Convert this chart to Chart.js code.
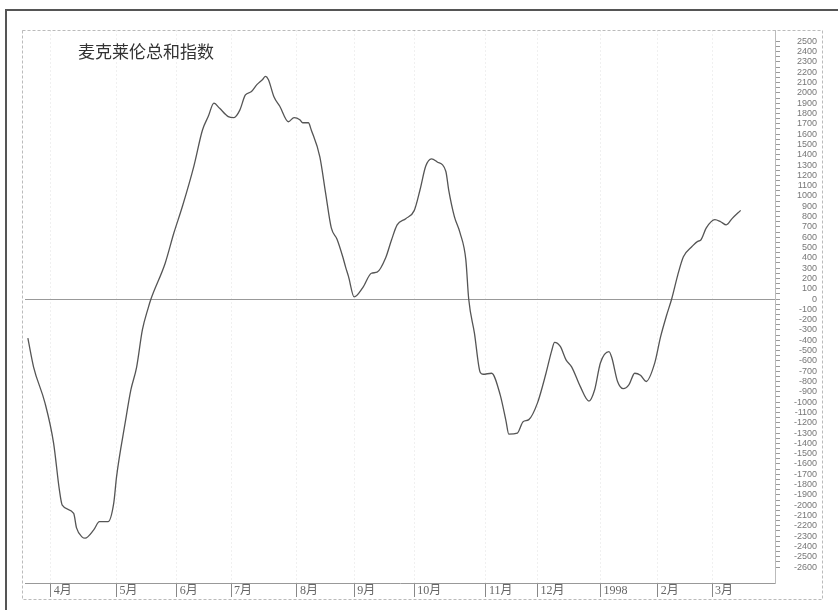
<!DOCTYPE html>
<html>
<head>
<meta charset="utf-8">
<script src="https://cdn.jsdelivr.net/npm/chart.js@4.4.0/dist/chart.umd.min.js"></script>
<style>
html, body { margin: 0; padding: 0; background: #fff; }
#wrap { width: 838px; height: 610px; }
</style>
</head>
<body>
<div id="wrap"><canvas id="mcChart" width="838" height="610"></canvas></div>
<script>
const chartTitle = '麦克莱伦总和指数';

// trading-day index (from late March 1997) and summation index value
const days = [0, 2, 6, 9, 11, 12, 16, 17, 19, 20, 23, 25, 28, 30, 31, 34, 36, 38, 40, 42,
    43, 48, 51, 54, 58, 61, 63, 65, 67, 70, 72, 74, 76, 78, 80, 82, 83, 84, 86, 88,
    91, 93, 95, 96, 98, 99, 102, 104, 106, 108, 110, 111, 112, 114, 117, 120, 122, 125, 127, 129,
    132, 135, 137, 139, 141, 143, 146, 147, 149, 151, 153, 154, 156, 158, 159, 162, 165, 167, 168, 171,
    173, 175, 178, 181, 183, 184, 186, 188, 190, 193, 196, 198, 200, 203, 204, 206, 208, 210, 212, 214,
    216, 219, 221, 223, 225, 227, 229, 232, 234, 235, 237, 240, 242, 244, 246, 249];
const values = [-380, -660, -1010, -1400, -1850, -2000, -2080, -2220, -2310, -2320, -2240, -2160, -2160, -1980, -1720, -1200, -880, -660, -300, -90,
    0, 350, 640, 900, 1290, 1640, 1770, 1900, 1850, 1770, 1760, 1830, 1980, 2010, 2080, 2130, 2160, 2130, 1960, 1870,
    1720, 1760, 1740, 1710, 1710, 1640, 1380, 1030, 690, 580, 410, 310, 220, 20, 110, 250, 260, 400, 570, 720,
    780, 860, 1060, 1290, 1360, 1330, 1240, 1060, 800, 640, 380, 0, -330, -710, -730, -720, -930, -1180, -1310, -1300,
    -1190, -1170, -1010, -720, -500, -420, -460, -590, -660, -850, -990, -880, -620, -510, -570, -800, -870, -830, -720, -740,
    -800, -620, -370, -170, 10, 230, 410, 510, 560, 570, 690, 770, 750, 720, 780, 860];

const monthDays = [8, 31, 52, 71, 94, 114, 135, 160, 178, 200, 220, 239];
const monthLabels = ['4月', '5月', '6月', '7月', '8月', '9月', '10月', '11月', '12月', '1998', '2月', '3月'];

const yTickFirst = -2600;
const yTickLast = 2500;
const yTickStep = 50;

const yTicks = [];
for (let v = yTickFirst; v <= yTickLast; v += yTickStep) yTicks.push(v);

const framePlugin = {
    id: 'frame',
    beforeDraw(chart) {
        const c = chart.ctx;
        c.save();
        c.fillStyle = '#fff';
        c.fillRect(0, 0, chart.width, chart.height);
        // outer dark frame
        c.strokeStyle = '#555';
        c.lineWidth = 2;
        c.beginPath();
        c.moveTo(6, 610);
        c.lineTo(6, 10);
        c.lineTo(838, 10);
        c.stroke();
        // inner light frame
        c.strokeStyle = '#bbb';
        c.lineWidth = 1;
        c.setLineDash([3, 2]);
        c.strokeRect(22.5, 30.5, 800, 569);
        c.restore();
    },
    afterDraw(chart) {
        const c = chart.ctx;
        c.save();
        c.fillStyle = '#333';
        c.font = '17px "Noto Sans CJK SC"';
        c.textBaseline = 'middle';
        c.fillText(chartTitle, 78, 52);
        c.restore();
    }
};

const ctx = document.getElementById('mcChart').getContext('2d');
const mcChart = new Chart(ctx, {
    type: 'line',
    data: {
        datasets: [{
            label: chartTitle,
            data: days.map((d, i) => ({ x: d, y: values[i] })),
            borderColor: '#555',
            borderWidth: 1.3,
            pointRadius: 0,
            fill: false,
            cubicInterpolationMode: 'monotone'
        }]
    },
    options: {
        responsive: false,
        animation: false,
        layout: {
            padding: { left: 25, top: 30, right: 21, bottom: 10 }
        },
        plugins: {
            legend: { display: false },
            tooltip: { enabled: false }
        },
        scales: {
            x: {
                type: 'linear',
                position: 'bottom',
                min: -1,
                max: 261,
                afterBuildTicks: s => { s.ticks = monthDays.map(v => ({ value: v })); },
                afterFit: s => { s.height = 17; },
                ticks: {
                    autoSkip: false,
                    maxRotation: 0,
                    align: 'start',
                    labelOffset: 3,
                    padding: -13,
                    color: '#666',
                    font: { size: 12, family: '"Liberation Serif", "Noto Sans CJK SC"' },
                    callback: v => monthLabels[monthDays.indexOf(v)]
                },
                grid: {
                    color: 'rgba(0,0,0,0.06)',
                    tickColor: '#888',
                    tickLength: 14
                },
                border: { color: '#999', dash: [2, 2] }
            },
            y: {
                type: 'linear',
                position: 'right',
                min: -2755,
                max: 2610,
                afterBuildTicks: s => { s.ticks = yTicks.map(v => ({ value: v })); },
                afterFit: s => { s.width = 42; },
                ticks: {
                    autoSkip: false,
                    crossAlign: 'far',
                    padding: 3,
                    color: '#777',
                    font: { size: 9, family: '"Liberation Sans"' },
                    callback: v => (v % 100 === 0 ? String(v) : '')
                },
                grid: {
                    color: c => (c.tick && c.tick.value === 0 ? '#999' : 'transparent'),
                    tickColor: '#999',
                    tickLength: 5
                },
                border: { color: '#bbb' }
            }
        }
    },
    plugins: [framePlugin]
});
</script>
</body>
</html>
